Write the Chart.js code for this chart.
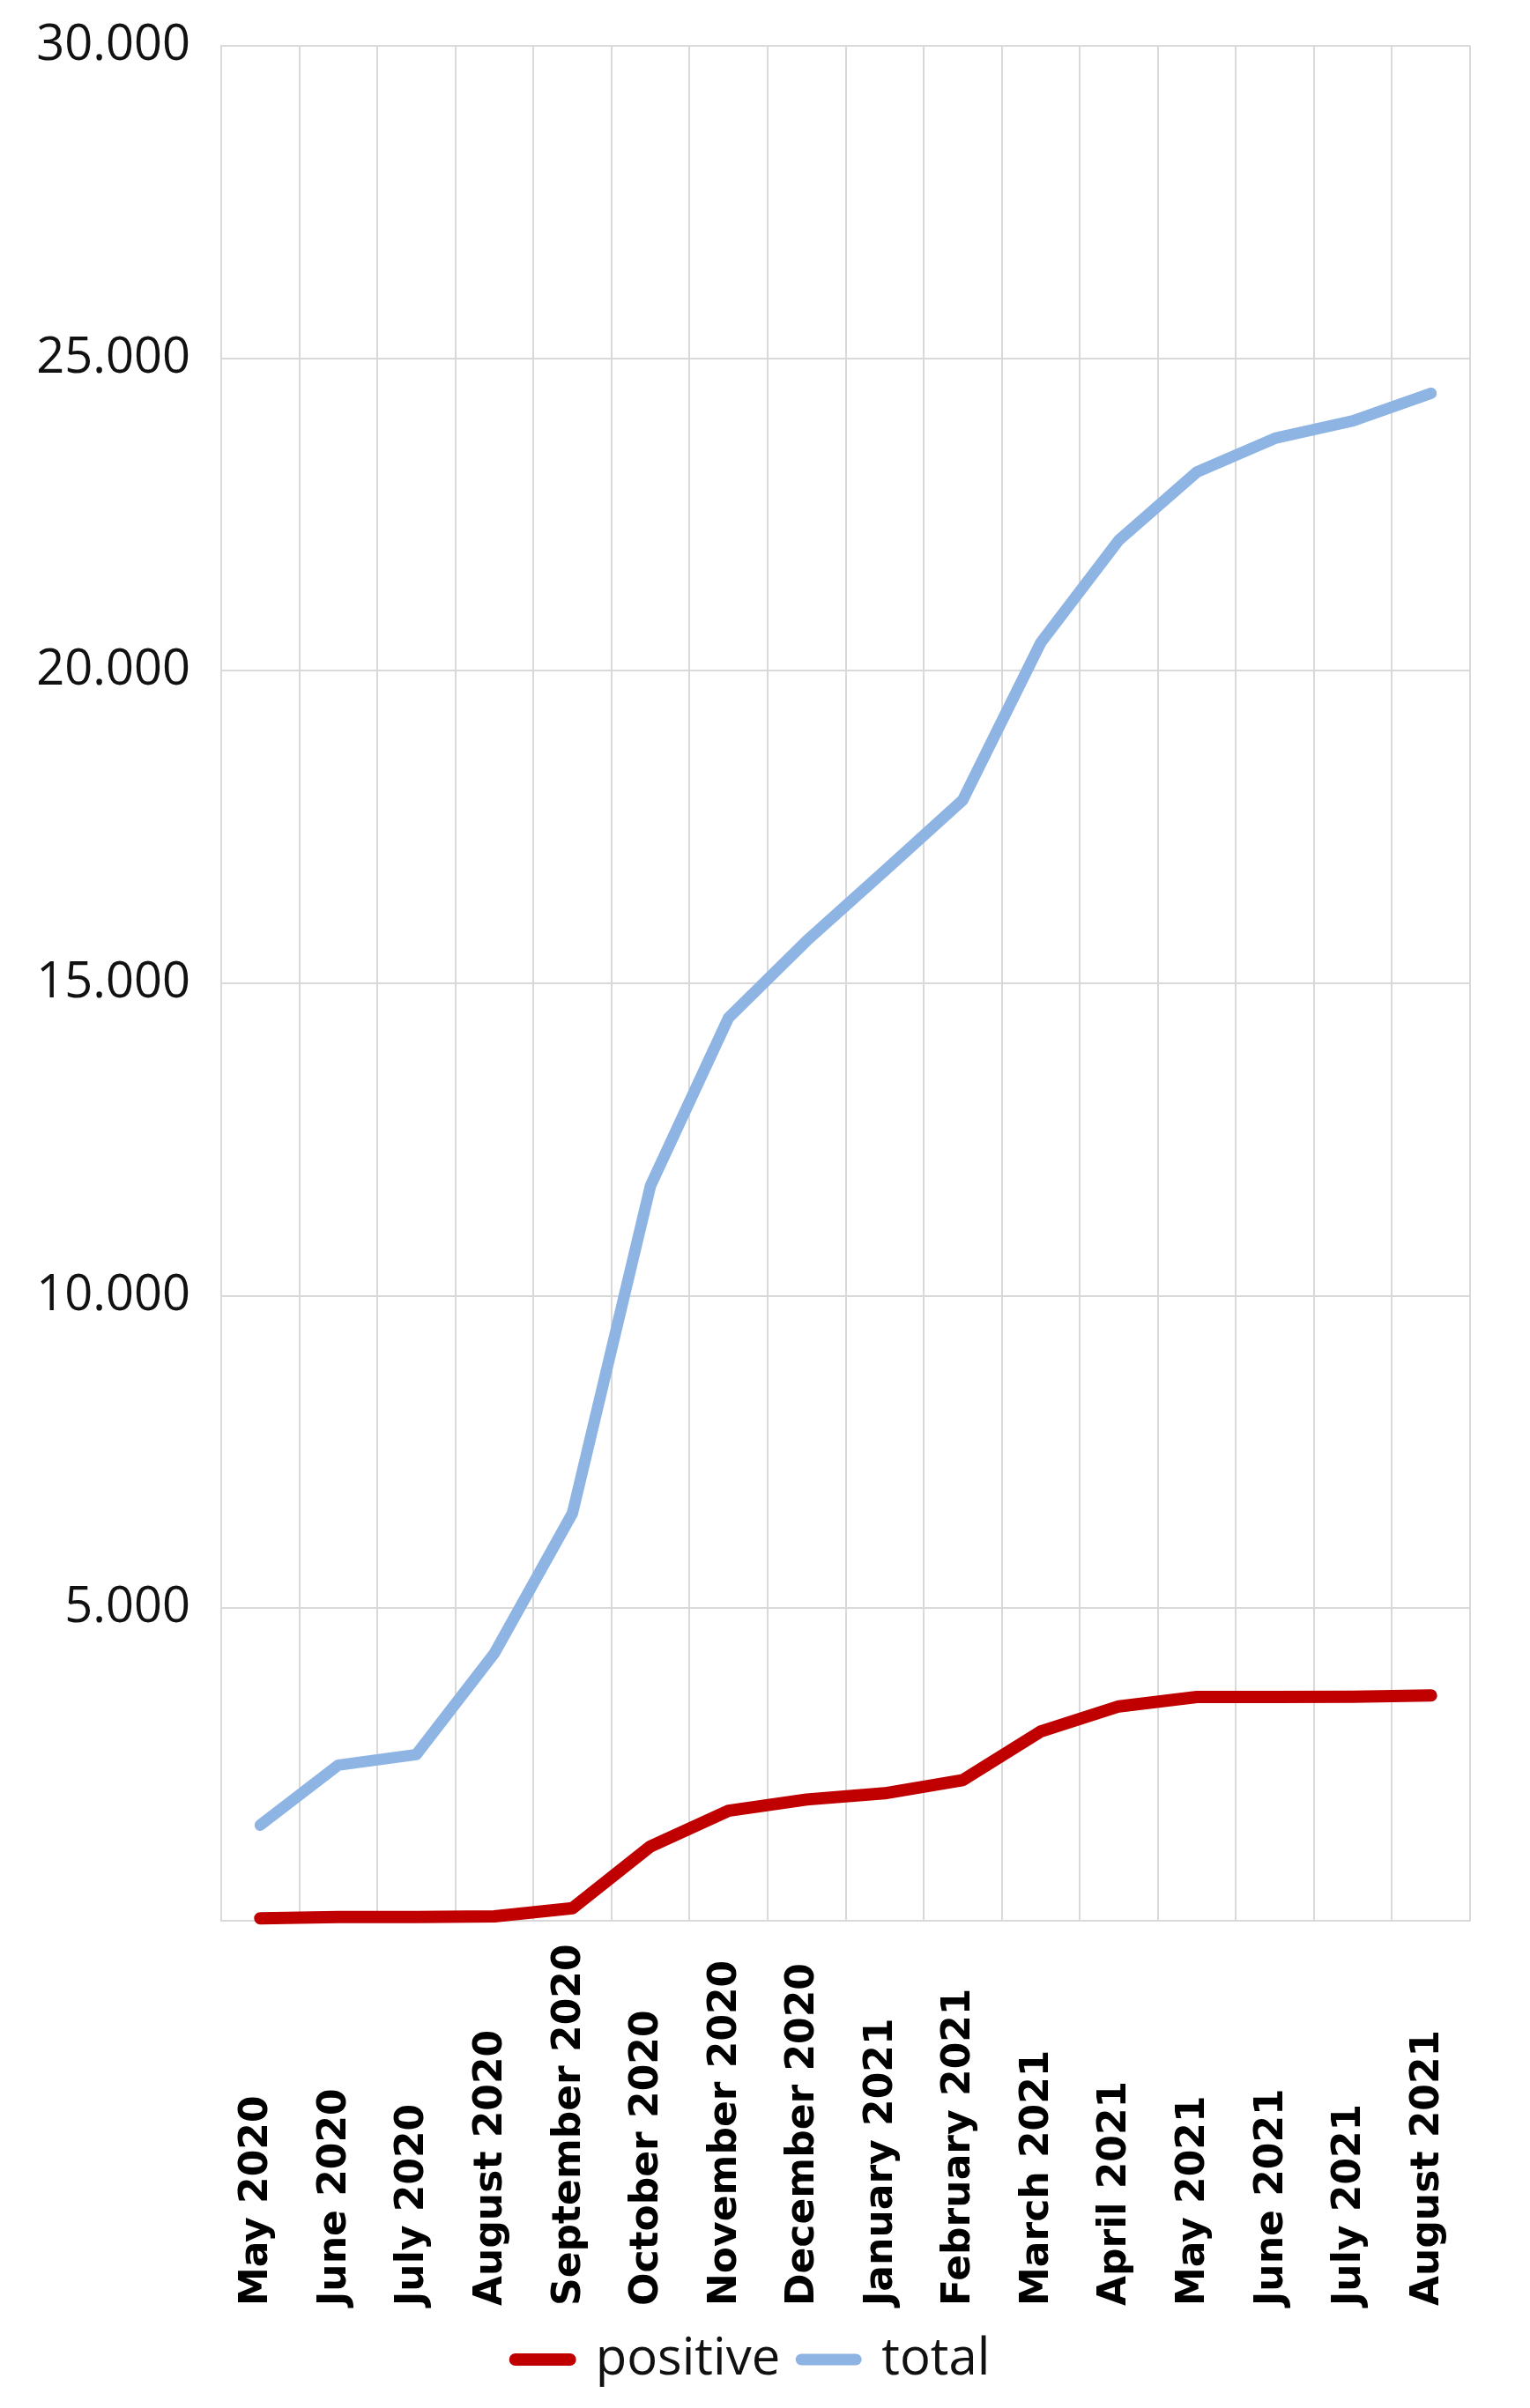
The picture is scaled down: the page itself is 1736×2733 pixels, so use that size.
<!DOCTYPE html>
<html lang="en">
<head>
    <meta charset="UTF-8">
    <title>positive / total</title>
    <script src="https://cdn.jsdelivr.net/npm/chart.js"></script>
    <style>
        html, body { margin: 0; padding: 0; background: #fff; }
    </style>
</head>
<body>
    <canvas id="chart" width="1736" height="2733"></canvas>

    <script>
        const months = ['May 2020', 'June 2020', 'July 2020', 'August 2020', 'September 2020',
            'October 2020', 'November 2020', 'December 2020', 'January 2021', 'February 2021',
            'March 2021', 'April 2021', 'May 2021', 'June 2021', 'July 2021', 'August 2021'];
        const positive = [40, 60, 60, 70, 200, 1190, 1760, 1940, 2040, 2250, 3030, 3430, 3580, 3580, 3585, 3605];
        const total = [1530, 2490, 2660, 4280, 6520, 11760, 14450, 15680, 16800, 17930, 20450, 22090, 23180, 23720, 24000, 24440];
        const yTicks = [0, 5000, 10000, 15000, 20000, 25000, 30000];

        const gridColor = '#d9d9d9';

        function fmt(v) {
            if (v === 0) return '';
            return String(v).replace(/\B(?=(\d{3})+(?!\d))/g, '.');
        }

        // month labels sit on the bottom edge of the axis area, reading upwards
        const monthLabels = {
            id: 'monthLabels',
            afterDraw(chart) {
                const ctx = chart.ctx;
                const xs = chart.scales.x;
                const base = xs.bottom - 8;
                ctx.save();
                ctx.font = 'bold 44px "DejaVu Sans"';
                ctx.fillStyle = '#000';
                ctx.textAlign = 'left';
                ctx.textBaseline = 'alphabetic';
                months.forEach((m, i) => {
                    const x = xs.getPixelForValue(i) + 8;
                    ctx.save();
                    ctx.translate(x, base);
                    ctx.rotate(-Math.PI / 2);
                    ctx.fillText(m, 0, 0);
                    ctx.restore();
                });
                ctx.restore();
            }
        };

        new Chart(document.getElementById('chart'), {
            type: 'line',
            data: {
                labels: months,
                datasets: [{
                    label: 'positive',
                    data: positive,
                    borderColor: '#c00000',
                    backgroundColor: '#c00000',
                    borderWidth: 14,
                    borderCapStyle: 'round',
                    borderJoinStyle: 'round',
                    pointRadius: 0,
                    tension: 0,
                    clip: false
                }, {
                    label: 'total',
                    data: total,
                    borderColor: '#8eb4e3',
                    backgroundColor: '#8eb4e3',
                    borderWidth: 13,
                    borderCapStyle: 'round',
                    borderJoinStyle: 'round',
                    pointRadius: 0,
                    tension: 0,
                    clip: false
                }]
            },
            options: {
                responsive: false,
                animation: false,
                layout: { autoPadding: false, padding: { top: 52, right: 68, bottom: 16, left: 40 } },
                plugins: {
                    legend: {
                        position: 'bottom',
                        labels: {
                            usePointStyle: true,
                            pointStyle: 'line',
                            pointStyleWidth: 62,
                            padding: 24,
                            color: '#111',
                            font: { family: '"Open Sans"', size: 58 },
                            generateLabels(chart) {
                                const items = Chart.defaults.plugins.legend.labels.generateLabels(chart);
                                items.forEach((it, i) => {
                                    it.lineCap = 'round';
                                    it.lineWidth = chart.data.datasets[i].borderWidth;
                                });
                                return items;
                            }
                        }
                    },
                    tooltip: { enabled: false }
                },
                scales: {
                    x: {
                        offset: true,
                        grid: { offset: true, color: gridColor, lineWidth: 2, drawTicks: false },
                        border: { color: gridColor, width: 2 },
                        ticks: { display: false },
                        afterFit(scale) { scale.height = 445; }
                    },
                    y: {
                        min: yTicks[0],
                        max: yTicks[yTicks.length - 1],
                        afterBuildTicks(scale) { scale.ticks = yTicks.map(v => ({ value: v })); },
                        grid: { color: gridColor, lineWidth: 2, drawTicks: false },
                        border: { color: gridColor, width: 2 },
                        ticks: {
                            padding: 35,
                            color: '#111',
                            // small lineHeight keeps the top label from pushing the plot down
                            font: { family: '"Open Sans"', size: 56, lineHeight: 0.5 },
                            callback: v => fmt(v)
                        },
                        afterFit(scale) { scale.width = 211; }
                    }
                }
            },
            plugins: [monthLabels]
        });
    </script>
</body>
</html>
